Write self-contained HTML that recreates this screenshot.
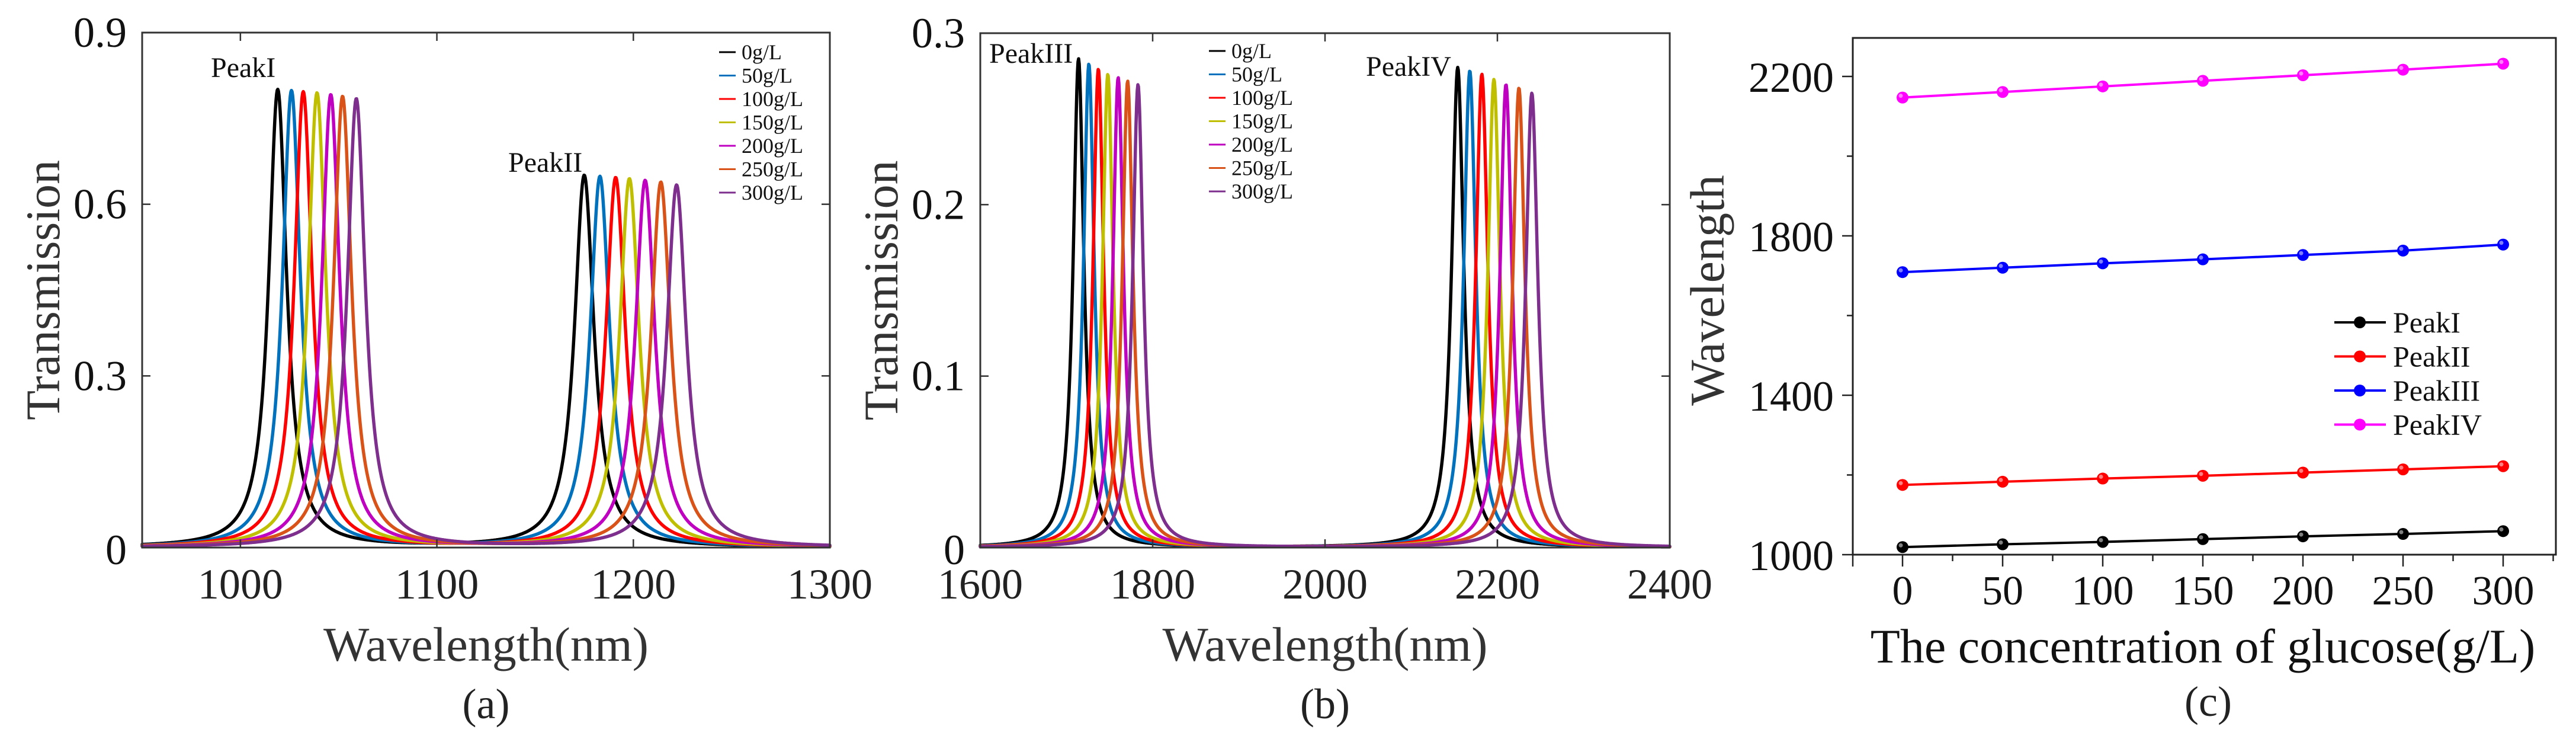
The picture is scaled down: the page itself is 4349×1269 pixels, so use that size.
<!DOCTYPE html>
<html><head><meta charset="utf-8">
<style>
html,body{margin:0;padding:0;background:#fff;}
svg{display:block;font-family:"Liberation Serif","Times New Roman",serif;}
</style></head>
<body>
<svg id="fig" width="4349" height="1269" viewBox="0 0 4349 1269" xmlns="http://www.w3.org/2000/svg"></svg>
<script>
// ---------- data ----------
const concLabels = ["0g/L","50g/L","100g/L","150g/L","200g/L","250g/L","300g/L"];
const seriesColors = ["#000000","#0072BD","#FF0000","#BFBF00","#C000C0","#D95319","#7E2F8E"];
// panel (a) peak centers (nm) and heights
const peak1Centers = [1019,1026,1032,1039,1046,1052,1059];
const peak1Heights = [0.800,0.798,0.796,0.794,0.791,0.788,0.784];
const peak2Centers = [1175,1183,1191,1198,1206,1214,1222];
const peak2Heights = [0.650,0.648,0.646,0.644,0.641,0.638,0.633];
// panel (b)
const peak3Centers = [1714,1726,1737,1748,1760,1771,1783];
const peak3Heights = [0.285,0.282,0.279,0.276,0.274,0.272,0.270];
const peak4Centers = [2154,2168,2182,2196,2210,2225,2240];
const peak4Heights = [0.280,0.278,0.276,0.273,0.270,0.268,0.265];
const peakHalfWidths = [5.5,6,7.5,8.5];
// panel (c)
const concValues = [0,50,100,150,200,250,300];
const cPeakI = [1019,1026,1032,1039,1046,1052,1059];
const cPeakII = [1175,1183,1191,1198,1206,1214,1222];
const cPeakIII = [1709,1720,1731,1741,1752,1763,1778];
const cPeakIV = [2147,2161,2175,2189,2203,2217,2232];
const cNames = ["PeakI","PeakII","PeakIII","PeakIV"];
const cColors = ["#000000","#FF0000","#0000FF","#FF00FF"];
const aXTicks = [1000,1100,1200,1300];
const aYTicks = [0,0.3,0.6,0.9];
const aYLabels = ["0","0.3","0.6","0.9"];
const bXTicks = [1600,1800,2000,2200,2400];
const bYTicks = [0,0.1,0.2,0.3];
const bYLabels = ["0","0.1","0.2","0.3"];
const cXTicks = [0,50,100,150,200,250,300];
const cYTicks = [1000,1400,1800,2200];

const NS="http://www.w3.org/2000/svg";
const svg=document.getElementById('fig');
function mk(tag,attrs,parent,text){
  const e=document.createElementNS(NS,tag);
  for(const k in attrs) e.setAttribute(k,attrs[k]);
  if(text!==undefined) e.textContent=text;
  (parent||svg).appendChild(e);
  return e;
}
function lin(d0,d1,r0,r1){return v=>r0+(v-d0)/(d1-d0)*(r1-r0);}

function spectrumPanel(o){
  const g=mk('g',{});
  
  
  const X=lin(o.xmin,o.xmax,o.L,o.R), Y=lin(0,o.ymax,o.B,o.T);
  for(let s=0;s<7;s++){
    let d='';
    for(let px=o.L;px<=o.R;px+=1){
      const x=o.xmin+(px-o.L)/(o.R-o.L)*(o.xmax-o.xmin);
      let v=0;
      o.peaks.forEach(p=>{const u=(x-p.c[s])/p.w; v+=p.h[s]/(1+u*u);});
      d+=(d?'L':'M')+px+','+Y(Math.min(v,o.ymax)).toFixed(1);
    }
    const path=mk('path',{d:d,fill:'none',stroke:seriesColors[s],'stroke-width':5.5,'stroke-linejoin':'round','stroke-linecap':'round'},g);
    
    
  }
  const fr=mk('rect',{x:o.L,y:o.T,width:o.R-o.L,height:o.B-o.T,fill:'none',stroke:'#333','stroke-width':3},g);
  
  
  o.xt.forEach(t=>{
    const x=X(t);
    mk('line',{x1:x,x2:x,y1:o.B,y2:o.B-14,stroke:'#333','stroke-width':2.5},g);
    mk('line',{x1:x,x2:x,y1:o.T,y2:o.T+14,stroke:'#333','stroke-width':2.5},g);
    const tl=mk('text',{x:x,y:1010,'font-size':72,'text-anchor':'middle',fill:'#222'},g,String(t));
    
    
  });
  o.yt.forEach((t,i)=>{
    const y=Y(t);
    mk('line',{x1:o.L,x2:o.L+14,y1:y,y2:y,stroke:'#333','stroke-width':2.5},g);
    mk('line',{x1:o.R,x2:o.R-14,y1:y,y2:y,stroke:'#333','stroke-width':2.5},g);
    const tl=mk('text',{x:o.L-26,y:y+(i===0?28:24),'font-size':72,'text-anchor':'end',fill:'#111'},g,o.yl[i]);
    
    
  });
  const xt=mk('text',{x:(o.L+o.R)/2+o.xtOff,y:1115,'font-size':82,'text-anchor':'middle',fill:'#333'},g,'Wavelength(nm)');
  
  
  const yt=mk('text',{x:0,y:0,'font-size':82,'text-anchor':'middle',fill:'#333',transform:`translate(${o.ytX},${(o.T+o.B)/2}) rotate(-90)`},g,'Transmission');
  
  
  const cap=mk('text',{x:(o.L+o.R)/2+o.xtOff,y:1212,'font-size':72,'text-anchor':'middle',fill:'#222'},g,o.cap);
  
  
  const lg=mk('g',{},g);
  
  
  concLabels.forEach((lab,i)=>{
    const y=o.legY+i*39.5;
    mk('line',{x1:o.legX,x2:o.legX+28,y1:y,y2:y,stroke:seriesColors[i],'stroke-width':3},lg);
    const t=mk('text',{x:o.legX+38,y:y+12,'font-size':36,fill:'#111'},lg,lab);
    
    
  });
  o.labels.forEach(l=>{
    const t=mk('text',{x:l.x,y:l.y,'font-size':48,fill:'#111'},g,l.t);
    
    
  });
}

spectrumPanel({name:'panel-a',L:240,R:1401,T:55,B:924,xmin:950,xmax:1300,ymax:0.9,
  peaks:[{c:peak1Centers,h:peak1Heights,w:peakHalfWidths[0]},{c:peak2Centers,h:peak2Heights,w:peakHalfWidths[1]}],
  xt:aXTicks,yt:aYTicks,yl:aYLabels,xtOff:0,ytX:100,cap:'(a)',legX:1214,legY:88,
  labels:[{x:356,y:130,t:'PeakI'},{x:858,y:290,t:'PeakII'}]});
spectrumPanel({name:'panel-b',L:1655,R:2819,T:56,B:924,xmin:1600,xmax:2400,ymax:0.3,
  peaks:[{c:peak3Centers,h:peak3Heights,w:peakHalfWidths[2]},{c:peak4Centers,h:peak4Heights,w:peakHalfWidths[3]}],
  xt:bXTicks,yt:bYTicks,yl:bYLabels,xtOff:0,ytX:1515,cap:'(b)',legX:2041,legY:86,
  labels:[{x:1670,y:106,t:'PeakIII'},{x:2306,y:128,t:'PeakIV'}]});

// ---------- panel (c) ----------
(function(){
  const g=mk('g',{});
  
  
  const L=3128,R=4315,T=64,B=936;
  const X=lin(0,300,3212,4226), Y=lin(1000,2200,936,129);
  const fr=mk('rect',{x:L,y:T,width:R-L,height:B-T,fill:'none',stroke:'#222','stroke-width':3},g);
  
  
  cXTicks.forEach(t=>{
    const x=X(t);
    mk('line',{x1:x,x2:x,y1:B,y2:B+20,stroke:'#222','stroke-width':2.5},g);
    const tl=mk('text',{x:x,y:1020,'font-size':70,'text-anchor':'middle',fill:'#111'},g,String(t));
    
    
  });
  for(let t=-25;t<=325;t+=50){const x=X(t); if(x>L&&x<R) mk('line',{x1:x,x2:x,y1:B,y2:B+11,stroke:'#222','stroke-width':2.5},g);}
  mk('line',{x1:L,x2:L,y1:B,y2:B+20,stroke:'#222','stroke-width':2.5},g);
  cYTicks.forEach(t=>{
    const y=Y(t);
    mk('line',{x1:L,x2:L-18,y1:y,y2:y,stroke:'#222','stroke-width':2.5},g);
    const tl=mk('text',{x:3096,y:y+26,'font-size':72,'text-anchor':'end',fill:'#111'},g,String(t));
    
    
  });
  for(let t=1200;t<2300;t+=400){const y=Y(t); mk('line',{x1:L,x2:L-10,y1:y,y2:y,stroke:'#222','stroke-width':2.5},g);}
  const all=[cPeakI,cPeakII,cPeakIII,cPeakIV];
  all.forEach((vals,k)=>{
    const sg=mk('g',{},g);
    
    
    const pts=vals.map((v,i)=>X(concValues[i])+','+Y(v)).join(' ');
    mk('polyline',{points:pts,fill:'none',stroke:cColors[k],'stroke-width':4},sg);
    vals.forEach((v,i)=>{
      const c=mk('circle',{cx:X(concValues[i]),cy:Y(v),r:10,fill:cColors[k]},sg);
      
      
      mk('circle',{cx:X(concValues[i])-3,cy:Y(v)-3,r:3.5,fill:'#fff','fill-opacity':0.5},sg);
    });
  });
  const lg=mk('g',{},g);
  
  
  cNames.forEach((n,k)=>{
    const y=544+k*57.5;
    mk('line',{x1:3941,x2:4028,y1:y,y2:y,stroke:cColors[k],'stroke-width':4},lg);
    mk('circle',{cx:3984,cy:y,r:10,fill:cColors[k]},lg);
    const t=mk('text',{x:4040,y:y+17,'font-size':50,fill:'#111'},lg,n);
    
    
  });
  const xt=mk('text',{x:3719,y:1118,'font-size':82,'text-anchor':'middle',fill:'#111'},g,'The concentration of glucose(g/L)');
  
  
  const yt=mk('text',{x:0,y:0,'font-size':82,'text-anchor':'middle',fill:'#333',transform:'translate(2910,490) rotate(-90)'},g,'Wavelength');
  
  
  const cap=mk('text',{x:3728,y:1208,'font-size':72,'text-anchor':'middle',fill:'#222'},g,'(c)');
  
  
})();
</script>
</body></html>
